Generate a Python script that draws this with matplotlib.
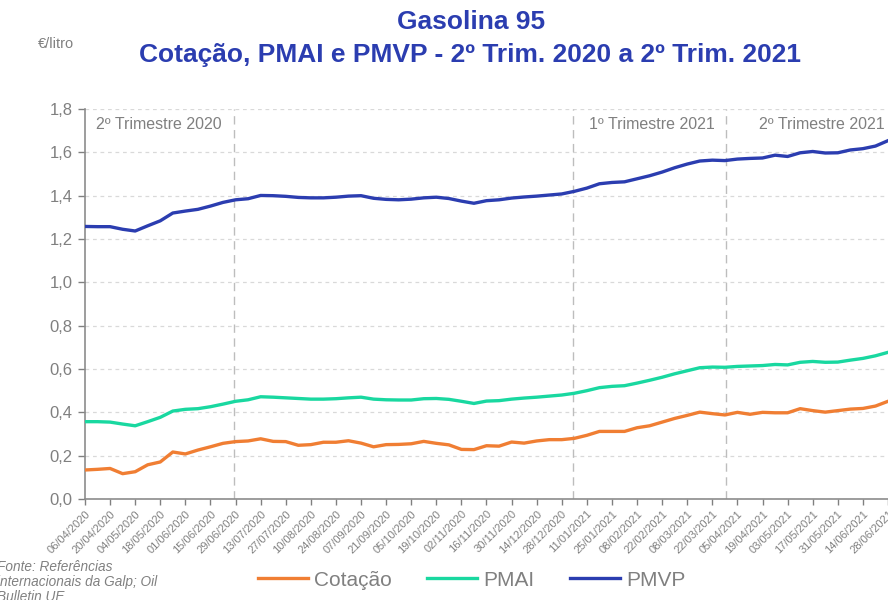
import pandas as pd
from matplotlib import pyplot as plt

# weekly dates (Monday), 2nd quarter 2020 to 2nd quarter 2021
dates = pd.date_range('2020-04-06', '2021-06-28', freq='7D')

# values, EUR/litre
cotacao = [0.134, 0.137, 0.141, 0.117, 0.126, 0.158, 0.171, 0.217, 0.208, 0.226,
           0.241, 0.257, 0.265, 0.268, 0.278, 0.266, 0.265, 0.248, 0.251, 0.262,
           0.262, 0.269, 0.258, 0.241, 0.251, 0.252, 0.255, 0.266, 0.257, 0.250,
           0.229, 0.228, 0.246, 0.244, 0.263, 0.258, 0.268, 0.274, 0.274, 0.280,
           0.294, 0.312, 0.312, 0.312, 0.329, 0.338, 0.355, 0.372, 0.386, 0.401,
           0.394, 0.388, 0.400, 0.391, 0.400, 0.398, 0.398, 0.417, 0.408, 0.401,
           0.408, 0.415, 0.418, 0.429, 0.451]
pmai = [0.357, 0.357, 0.355, 0.346, 0.338, 0.357, 0.377, 0.406, 0.414, 0.417,
        0.426, 0.438, 0.451, 0.458, 0.472, 0.470, 0.467, 0.464, 0.461, 0.461,
        0.463, 0.467, 0.470, 0.461, 0.458, 0.457, 0.457, 0.463, 0.464, 0.460,
        0.451, 0.441, 0.452, 0.454, 0.461, 0.466, 0.470, 0.475, 0.480, 0.488,
        0.500, 0.514, 0.520, 0.523, 0.535, 0.548, 0.562, 0.578, 0.592, 0.606,
        0.609, 0.608, 0.612, 0.614, 0.616, 0.621, 0.619, 0.631, 0.635, 0.631,
        0.632, 0.641, 0.649, 0.661, 0.677]
pmvp = [1.258, 1.257, 1.257, 1.245, 1.237, 1.261, 1.284, 1.320, 1.329, 1.337,
        1.352, 1.369, 1.381, 1.386, 1.401, 1.400, 1.397, 1.392, 1.390, 1.390,
        1.393, 1.398, 1.400, 1.388, 1.383, 1.381, 1.384, 1.390, 1.393, 1.387,
        1.375, 1.365, 1.377, 1.381, 1.389, 1.394, 1.398, 1.403, 1.408, 1.420,
        1.435, 1.455, 1.461, 1.464, 1.478, 1.492, 1.509, 1.529, 1.546, 1.560,
        1.564, 1.562, 1.569, 1.572, 1.574, 1.587, 1.581, 1.598, 1.604, 1.597,
        1.598, 1.611, 1.617, 1.629, 1.654]

quarter_labels = ['2º Trimestre 2020', '1º Trimestre 2021', '2º Trimestre 2021']

# layout constants (week index units)
quarter_lines = [11.9, 38.9, 51.05]
quarter_text_x = [0.9, 40.2, 53.7]

grey = '#808080'
plt.rcParams['font.family'] = ['Liberation Sans', 'DejaVu Sans']

fig = plt.figure(figsize=(8.88, 6), dpi=100)
ax = fig.add_axes([0.0957, 0.1683, 0.9043, 0.65])

x = range(len(dates))
ax.plot(x, cotacao, color='#F07E33', lw=2.4, label='Cotação', zorder=3)
ax.plot(x, pmai, color='#19D8A0', lw=2.4, label='PMAI', zorder=3)
ax.plot(x, pmvp, color='#2B3DB0', lw=2.4, label='PMVP', zorder=3)

# quarter separators and labels
for xv in quarter_lines:
    ax.axvline(xv, color='#BDBDBD', lw=1.0, ls=(0, (6, 4)), zorder=1)
for xt, lab in zip(quarter_text_x, quarter_labels):
    ax.text(xt, 1.73, lab, color=grey, fontsize=11.5, ha='left', va='center')

ax.set_xlim(0, len(dates) - 1)
ax.set_ylim(0, 1.8)
ax.set_yticks([i / 5 for i in range(10)])
ax.set_yticklabels([f'{i / 5:.1f}'.replace('.', ',') for i in range(10)])
ax.set_xticks(list(x)[::2])
ax.set_xticklabels([d.strftime('%d/%m/%Y') for d in dates[::2]],
                   rotation=45, ha='right', rotation_mode='anchor', fontsize=8)

ax.grid(axis='y', color='#D9D9D9', ls=(0, (3, 3)), lw=0.9)
ax.set_axisbelow(True)
for s in ['top', 'right']:
    ax.spines[s].set_visible(False)
for s in ['left', 'bottom']:
    ax.spines[s].set_color('#8C8C8C')
    ax.spines[s].set_linewidth(1.2)
ax.tick_params(axis='y', colors=grey, labelsize=12, length=5, width=1, pad=4)
ax.tick_params(axis='x', colors=grey, length=4, width=1, pad=3)
for t in ax.get_xticklabels() + ax.get_yticklabels():
    t.set_color(grey)

# titles
fig.text(0.531, 0.963, 'Gasolina 95', ha='center', va='center',
         fontsize=19, fontweight='bold', color='#2B3DB0')
fig.text(0.529, 0.908, 'Cotação, PMAI e PMVP - 2º Trim. 2020 a 2º Trim. 2021',
         ha='center', va='center', fontsize=19, fontweight='bold', color='#2B3DB0')
fig.text(0.043, 0.927, '€/litro', ha='left', va='center', fontsize=10.5, color=grey)

# source note
fig.text(-0.003, 0.03, 'Fonte: Referências\ninternacionais da Galp; Oil\nBulletin UE',
         ha='left', va='center', fontsize=9.8, style='italic', color=grey,
         linespacing=1.1)

leg = fig.legend(loc='center', bbox_to_anchor=(0.531, 0.033), ncol=3, frameon=False,
                 fontsize=15, handlelength=2.4, columnspacing=1.7, handletextpad=0.3)
for t in leg.get_texts():
    t.set_color(grey)

plt.savefig('out.png', dpi=100)
